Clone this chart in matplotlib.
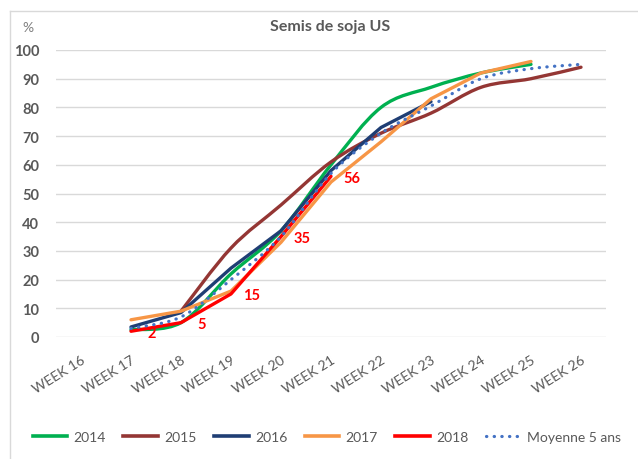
import matplotlib.pyplot as plt
import numpy as np
from matplotlib.path import Path
from matplotlib.patches import PathPatch
from matplotlib.lines import Line2D

nan = np.nan

# categories
weeks = ['WEEK 16', 'WEEK 17', 'WEEK 18', 'WEEK 19', 'WEEK 20', 'WEEK 21',
         'WEEK 22', 'WEEK 23', 'WEEK 24', 'WEEK 25', 'WEEK 26']

# planting progress (%)
y2014 = [nan, 2.5, 5, 22, 37, 60, 80, 87, 92, 95, nan]
y2015 = [nan, nan, 9, 31, 46, 61, 71, 78, 87, 90, 94]
y2016 = [nan, 3.5, 8.5, 24, 37, 58, 73, 82, nan, nan, nan]
y2017 = [nan, 6, 9, 16, 33, 54, 68, 83, 92, 96, nan]
y2018 = [nan, 2, 5, 15, 35, 56, nan, nan, nan, nan, nan]
moyenne = [nan, 3, 7, 20, 35, 57, 71, 80.5, 90, 93.5, 95]

labels_2018 = ['2', '5', '15', '35', '56']

GRAY = '#595959'
FONT = 'Lato'


def smooth_path(x, y):
    # Excel-like smoothed line: Catmull-Rom drawn as cubic Bezier segments
    pts = np.column_stack([x, y])
    verts = [pts[0]]
    codes = [Path.MOVETO]
    n = len(pts)
    for i in range(n - 1):
        p0 = pts[max(i - 1, 0)]
        p1 = pts[i]
        p2 = pts[i + 1]
        p3 = pts[min(i + 2, n - 1)]
        c1 = p1 + (p2 - p0) / 6
        c2 = p2 - (p3 - p1) / 6
        verts += [c1, c2, p2]
        codes += [Path.CURVE4] * 3
    return Path(verts, codes)


fig = plt.figure(figsize=(6.38, 4.6), dpi=100)
ax = fig.add_axes([56 / 638, 1 - 338 / 460, 550 / 638, 287 / 460])

x = np.arange(len(weeks))

series = [
    (y2014, '2014', '#00B050', True, '-'),
    (y2015, '2015', '#943634', True, '-'),
    (y2016, '2016', '#1F3E74', False, '-'),
    (y2017, '2017', '#F79646', False, '-'),
    (y2018, '2018', '#FF0000', False, '-'),
    (moyenne, 'Moyenne 5 ans', '#4472C4', True, ':'),
]

handles = []
for vals, name, color, smooth, ls in series:
    vals = np.array(vals, dtype=float)
    ok = ~np.isnan(vals)
    xs, ys = x[ok], vals[ok]
    if ls == ':':
        patch = PathPatch(smooth_path(xs, ys), fill=False, edgecolor=color,
                          lw=2.3, linestyle=(0, (0.1, 2.3)), capstyle='round',
                          zorder=4)
        ax.add_patch(patch)
        handles.append(Line2D([], [], color=color, lw=2.3,
                              linestyle=(0, (0.1, 2.3)),
                              dash_capstyle='round', label=name))
    else:
        if smooth:
            patch = PathPatch(smooth_path(xs, ys), fill=False, edgecolor=color,
                              lw=2.4, capstyle='round', joinstyle='round',
                              zorder=3)
            ax.add_patch(patch)
        else:
            ax.plot(xs, ys, color=color, lw=2.4, solid_capstyle='round',
                    solid_joinstyle='round', zorder=3)
        handles.append(Line2D([], [], color=color, lw=2.6, label=name))

# data labels of 2018
y18 = np.array(y2018, dtype=float)
for i, txt in zip(np.where(~np.isnan(y18))[0], labels_2018):
    ax.annotate(txt, (x[i], y18[i]), xytext=(15, -1), textcoords='offset points',
                ha='center', va='center', color='#FF0000', fontweight='bold',
                fontsize=10.5, family=FONT, zorder=6)

ax.set_xlim(-0.5, len(weeks) - 0.5)
ax.set_ylim(0, 100)
ax.set_yticks(range(0, 101, 10))
ax.set_xticks(x)
ax.set_xticklabels(weeks, rotation=32, ha='right', va='top',
                   rotation_mode='anchor', fontsize=10, family=FONT, color=GRAY)
ax.tick_params(axis='x', length=0, pad=12)
ax.tick_params(axis='y', length=0, pad=12)
for lab in ax.get_yticklabels():
    lab.set_fontweight('bold')
    lab.set_family(FONT)
    lab.set_fontsize(10.5)
    lab.set_color(GRAY)

ax.grid(axis='y', color='#D9D9D9', lw=1)
ax.set_axisbelow(True)
for s in ax.spines.values():
    s.set_visible(False)

fig.text(330 / 638, 1 - 27 / 460, 'Semis de soja US', ha='center', va='center',
         fontsize=11.5, fontweight='bold', color=GRAY, family=FONT)
fig.text(28 / 638, 1 - 28 / 460, '%', ha='center', va='center',
         fontsize=10, color='#7F7F7F', family=FONT)

# chart border
fig.add_artist(Line2D([10 / 638, 10 / 638], [0, 1 - 12 / 460], color='#D9D9D9', lw=1))
fig.add_artist(Line2D([10 / 638, 1], [1 - 12 / 460, 1 - 12 / 460], color='#D9D9D9', lw=1))

fig.legend(handles=handles, loc='center left', bbox_to_anchor=(20 / 638, 1 - 438 / 460),
           ncol=6, frameon=False, handlelength=2.5, handletextpad=0.45,
           columnspacing=1.25, prop={'family': FONT, 'size': 10},
           labelcolor=GRAY)

fig.savefig('out.png', dpi=100)
